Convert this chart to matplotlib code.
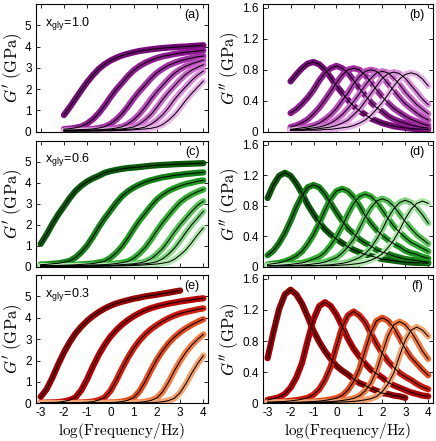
import numpy as np
import matplotlib
matplotlib.use("Agg")
import matplotlib.pyplot as plt

plt.rcParams['font.family'] = ['Liberation Sans', 'DejaVu Sans']
plt.rcParams['mathtext.fontset'] = 'cm'
plt.rcParams['axes.unicode_minus'] = False

nan = np.nan

# log10 frequency grids (quarter decade)
x_a = [-2, -1.75, -1.5, -1.25, -1, -0.75, -0.5, -0.25, 0, 0.25, 0.5, 0.75, 1,
       1.25, 1.5, 1.75, 2, 2.25, 2.5, 2.75, 3, 3.25, 3.5, 3.75, 4]
x_c = [-3, -2.75, -2.5, -2.25] + x_a

# (a) G' (GPa), x_gly = 1.0
gp_a = [
    [0.78, 1.15, 1.55, 1.95, 2.33, 2.66, 2.95, 3.17, 3.34, 3.47, 3.58, 3.66, 3.73,
     3.79, 3.83, 3.87, 3.9, 3.93, 3.95, 3.97, 3.99, 4.0, 4.02, 4.04, 4.06],
    [0.12, 0.14, 0.18, 0.24, 0.38, 0.59, 0.87, 1.22, 1.62, 1.98, 2.29, 2.61, 2.88,
     3.08, 3.24, 3.36, 3.46, 3.54, 3.59, 3.65, 3.69, 3.73, 3.76, 3.79, 3.82],
    [0.08, 0.08, 0.09, 0.1, 0.11, 0.13, 0.17, 0.23, 0.36, 0.57, 0.84, 1.18, 1.56,
     1.9, 2.2, 2.51, 2.77, 2.96, 3.12, 3.23, 3.33, 3.4, 3.46, 3.52, 3.55],
    [0.05, 0.05, 0.05, 0.06, 0.07, 0.08, 0.09, 0.11, 0.13, 0.17, 0.23, 0.36, 0.56,
     0.83, 1.16, 1.54, 1.88, 2.18, 2.48, 2.74, 2.93, 3.08, 3.19, 3.28, 3.36],
    [0.04, 0.04, 0.04, 0.05, 0.05, 0.06, 0.07, 0.08, 0.09, 0.11, 0.13, 0.17, 0.22,
     0.35, 0.56, 0.81, 1.15, 1.52, 1.85, 2.15, 2.44, 2.7, 2.89, 3.03, 3.15],
    [0.04, 0.04, 0.04, 0.04, 0.04, 0.05, 0.05, 0.06, 0.07, 0.08, 0.09, 0.11, 0.13,
     0.16, 0.22, 0.35, 0.55, 0.8, 1.13, 1.5, 1.83, 2.12, 2.41, 2.66, 2.85],
    [0.03, 0.03, 0.03, 0.03, 0.03, 0.03, 0.03, 0.04, 0.04, 0.05, 0.06, 0.07, 0.09,
     0.11, 0.13, 0.16, 0.22, 0.34, 0.54, 0.79, 1.12, 1.48, 1.8, 2.09, 2.38],
]
# (b) G'' (GPa), x_gly = 1.0
gpp_b = [
    [0.65, 0.74, 0.82, 0.88, 0.9, 0.87, 0.8, 0.7, 0.59, 0.5, 0.41, 0.33, 0.27,
     0.22, 0.17, 0.14, 0.11, 0.09, 0.07, 0.06, 0.05, 0.04, 0.036, 0.032, 0.027],
    [0.24, 0.29, 0.36, 0.44, 0.54, 0.66, 0.76, 0.82, 0.85, 0.82, 0.76, 0.66, 0.56,
     0.47, 0.38, 0.31, 0.26, 0.2, 0.16, 0.13, 0.11, 0.085, 0.07, 0.055, 0.047],
    [0.06, 0.08, 0.115, 0.16, 0.23, 0.31, 0.41, 0.52, 0.63, 0.73, 0.8, 0.82, 0.8,
     0.73, 0.64, 0.54, 0.45, 0.37, 0.3, 0.25, 0.2, 0.16, 0.13, 0.1, 0.08],
    [0.03, 0.04, 0.05, 0.06, 0.08, 0.11, 0.16, 0.22, 0.3, 0.4, 0.5, 0.62, 0.71,
     0.78, 0.8, 0.78, 0.71, 0.62, 0.53, 0.44, 0.36, 0.3, 0.24, 0.19, 0.15],
    [0.02, 0.03, 0.03, 0.04, 0.05, 0.06, 0.08, 0.11, 0.16, 0.22, 0.3, 0.39, 0.49,
     0.6, 0.69, 0.76, 0.78, 0.76, 0.69, 0.61, 0.51, 0.43, 0.35, 0.29, 0.23],
    [0.02, 0.02, 0.02, 0.03, 0.03, 0.04, 0.05, 0.06, 0.08, 0.11, 0.15, 0.22, 0.29,
     0.39, 0.49, 0.59, 0.69, 0.75, 0.77, 0.75, 0.69, 0.6, 0.51, 0.42, 0.35],
    [0.02, 0.02, 0.02, 0.02, 0.02, 0.02, 0.03, 0.03, 0.04, 0.05, 0.06, 0.08, 0.11,
     0.15, 0.21, 0.29, 0.38, 0.48, 0.59, 0.68, 0.74, 0.76, 0.74, 0.68, 0.59],
]
# (c) G' (GPa), x_gly = 0.6
gp_c = [
    [1.09, 1.53, 2.03, 2.48, 2.87, 3.27, 3.61, 3.86, 4.06, 4.21, 4.33, 4.47, 4.55,
     4.61, 4.66, 4.7, 4.72, 4.75, 4.78, 4.81, 4.83, 4.85, 4.86, 4.88, 4.89, 4.9,
     4.91, 4.92, 4.93],
    [0.1, 0.11, 0.14, 0.16, 0.21, 0.28, 0.44, 0.69, 1.01, 1.43, 1.89, 2.3, 2.67,
     3.04, 3.36, 3.59, 3.77, 3.91, 4.03, 4.12, 4.19, 4.26, 4.3, 4.35, 4.38, 4.42,
     4.44, 4.47, 4.49],
    [0.05, 0.05, 0.06, 0.06, 0.07, 0.08, 0.09, 0.11, 0.13, 0.15, 0.2, 0.26, 0.42,
     0.66, 0.97, 1.36, 1.8, 2.2, 2.55, 2.9, 3.21, 3.43, 3.61, 3.74, 3.85, 3.94,
     4.0, 4.07, 4.11],
    [0.04, 0.04, 0.04, 0.04, 0.04, 0.04, 0.05, 0.06, 0.07, 0.08, 0.09, 0.1, 0.12,
     0.15, 0.19, 0.25, 0.4, 0.63, 0.92, 1.3, 1.72, 2.1, 2.44, 2.77, 3.07, 3.28,
     3.44, 3.57, 3.68],
    [0.03, 0.03, 0.03, 0.03, 0.03, 0.03, 0.04, 0.04, 0.04, 0.05, 0.05, 0.06, 0.07,
     0.08, 0.1, 0.12, 0.14, 0.18, 0.24, 0.38, 0.6, 0.88, 1.24, 1.64, 2.0, 2.32,
     2.64, 2.92, 3.12],
    [0.03, 0.03, 0.03, 0.03, 0.03, 0.03, 0.03, 0.03, 0.03, 0.03, 0.03, 0.04, 0.05,
     0.06, 0.07, 0.08, 0.1, 0.12, 0.14, 0.18, 0.24, 0.38, 0.6, 0.88, 1.24, 1.64,
     2.0, 2.32, 2.64],
    [0.03, 0.03, 0.03, 0.03, 0.03, 0.03, 0.03, 0.03, 0.03, 0.03, 0.03, 0.03, 0.03,
     0.04, 0.04, 0.05, 0.06, 0.07, 0.09, 0.11, 0.13, 0.17, 0.22, 0.35, 0.56, 0.81,
     1.15, 1.52, 1.85],
]
# (d) G'' (GPa), x_gly = 0.6
gpp_d = [
    [0.9, 1.07, 1.19, 1.23, 1.19, 1.09, 0.96, 0.81, 0.69, 0.58, 0.49, 0.42, 0.36,
     0.31, 0.26, 0.22, 0.19, 0.16, 0.14, 0.12, 0.1, 0.09, 0.08, 0.07, 0.06, 0.055,
     0.05, 0.05, 0.045],
    [0.15, 0.21, 0.31, 0.44, 0.6, 0.78, 0.93, 1.04, 1.07, 1.04, 0.95, 0.83, 0.71,
     0.6, 0.5, 0.43, 0.36, 0.31, 0.27, 0.22, 0.19, 0.17, 0.14, 0.12, 0.1, 0.09,
     0.08, 0.07, 0.06],
    [0.03, 0.04, 0.05, 0.07, 0.1, 0.14, 0.2, 0.3, 0.42, 0.57, 0.74, 0.89, 0.99,
     1.02, 0.99, 0.91, 0.8, 0.67, 0.57, 0.48, 0.41, 0.35, 0.3, 0.26, 0.21, 0.18,
     0.16, 0.13, 0.11],
    [0.014, 0.014, 0.019, 0.024, 0.03, 0.04, 0.05, 0.07, 0.1, 0.13, 0.19, 0.28,
     0.39, 0.53, 0.69, 0.83, 0.92, 0.95, 0.92, 0.85, 0.74, 0.63, 0.53, 0.45, 0.38,
     0.32, 0.28, 0.24, 0.2],
    [0.013, 0.013, 0.013, 0.013, 0.013, 0.018, 0.022, 0.027, 0.036, 0.045, 0.06,
     0.09, 0.12, 0.18, 0.26, 0.36, 0.5, 0.65, 0.77, 0.86, 0.89, 0.86, 0.79, 0.69,
     0.59, 0.5, 0.42, 0.36, 0.3],
    [0.013, 0.013, 0.013, 0.013, 0.013, 0.013, 0.013, 0.013, 0.013, 0.017, 0.022,
     0.026, 0.035, 0.044, 0.06, 0.087, 0.12, 0.17, 0.25, 0.36, 0.49, 0.64, 0.76,
     0.84, 0.87, 0.84, 0.77, 0.68, 0.57],
    [0.013, 0.013, 0.013, 0.013, 0.013, 0.013, 0.013, 0.013, 0.013, 0.013, 0.013,
     0.013, 0.017, 0.022, 0.026, 0.034, 0.043, 0.06, 0.086, 0.12, 0.17, 0.25, 0.35,
     0.48, 0.63, 0.75, 0.83, 0.86, 0.83],
]
# (e) G' (GPa), x_gly = 0.3
gp_e = [
    [0.3, 0.65, 1.19, 1.81, 2.38, 2.86, 3.27, 3.59, 3.86, 4.08, 4.27, 4.43, 4.56,
     4.67, 4.75, 4.82, 4.89, 4.94, 5.0, 5.04, 5.08, 5.13, 5.17, 5.22, 5.27, nan,
     nan, nan, nan],
    [0.02, 0.03, 0.04, 0.05, 0.09, 0.15, 0.28, 0.62, 1.13, 1.73, 2.27, 2.73, 3.12,
     3.42, 3.68, 3.89, 4.07, 4.22, 4.35, 4.45, 4.53, 4.6, 4.66, 4.71, 4.76, 4.8,
     4.84, 4.88, 4.91],
    [0.01, 0.01, 0.01, 0.01, 0.015, 0.02, 0.025, 0.035, 0.05, 0.08, 0.15, 0.27,
     0.58, 1.07, 1.62, 2.13, 2.57, 2.93, 3.23, 3.47, 3.66, 3.83, 3.98, 4.1, 4.2,
     4.27, 4.33, 4.39, 4.44],
    [0.01, 0.01, 0.01, 0.01, 0.01, 0.01, 0.01, 0.01, 0.01, 0.014, 0.019, 0.023,
     0.033, 0.047, 0.08, 0.14, 0.26, 0.56, 1.02, 1.56, 2.05, 2.46, 2.81, 3.09,
     3.32, 3.51, 3.67, 3.81, 3.93],
    [0.01, 0.01, 0.01, 0.01, 0.01, 0.01, 0.01, 0.01, 0.01, 0.01, 0.01, 0.01, 0.01,
     0.013, 0.018, 0.023, 0.03, 0.045, 0.077, 0.135, 0.25, 0.54, 0.99, 1.51, 1.98,
     2.39, 2.72, 2.99, 3.22],
    [0.01, 0.01, 0.01, 0.01, 0.01, 0.01, 0.01, 0.01, 0.01, 0.01, 0.01, 0.01, 0.01,
     0.01, 0.01, 0.01, 0.013, 0.017, 0.021, 0.029, 0.042, 0.071, 0.126, 0.23, 0.5,
     0.92, 1.41, 1.85, 2.23],
]
# (f) G'' (GPa), x_gly = 0.3
gpp_f = [
    [0.58, 0.91, 1.21, 1.4, 1.46, 1.4, 1.28, 1.11, 0.93, 0.79, 0.67, 0.57, 0.48,
     0.42, 0.37, 0.31, 0.26, 0.23, 0.19, 0.16, 0.13, 0.12, 0.1, 0.09, 0.07, nan,
     nan, nan, nan],
    [0.044, 0.059, 0.078, 0.12, 0.2, 0.33, 0.52, 0.81, 1.08, 1.25, 1.3, 1.25, 1.14,
     0.99, 0.83, 0.7, 0.6, 0.51, 0.43, 0.38, 0.33, 0.27, 0.23, 0.2, 0.17, 0.14,
     0.12, 0.1, 0.09],
    [0.014, 0.017, 0.02, 0.024, 0.031, 0.04, 0.053, 0.071, 0.11, 0.18, 0.3, 0.47,
     0.73, 0.98, 1.13, 1.18, 1.13, 1.04, 0.9, 0.76, 0.64, 0.54, 0.46, 0.39, 0.34,
     0.3, 0.25, 0.21, 0.18],
    [0.011, 0.011, 0.011, 0.011, 0.011, 0.013, 0.015, 0.019, 0.022, 0.029, 0.037,
     0.05, 0.066, 0.1, 0.17, 0.28, 0.44, 0.68, 0.91, 1.06, 1.1, 1.06, 0.97, 0.84,
     0.7, 0.59, 0.51, 0.43, 0.36],
    [0.01, 0.01, 0.01, 0.01, 0.01, 0.01, 0.01, 0.01, 0.013, 0.015, 0.018, 0.021,
     0.027, 0.036, 0.047, 0.063, 0.095, 0.16, 0.26, 0.42, 0.65, 0.87, 1.01, 1.05,
     1.01, 0.92, 0.8, 0.67, 0.57],
    [0.01, 0.01, 0.01, 0.01, 0.01, 0.01, 0.01, 0.01, 0.01, 0.01, 0.01, 0.012,
     0.014, 0.017, 0.02, 0.025, 0.033, 0.044, 0.059, 0.088, 0.15, 0.25, 0.39, 0.61,
     0.81, 0.94, 0.98, 0.94, 0.86],
]

purple = ['#760a78', '#8e1a92', '#a42ea6', '#ba4cbc', '#cc6ace', '#dc8cdc', '#eab4ea']
green = ['#0a5a0a', '#128012', '#1e9a1e', '#30b030', '#58c458', '#84d684', '#b2e8ae']
red = ['#960000', '#b80000', '#d01c0a', '#e44c1c', '#f27c42', '#f6a26e']

panels = [
    ('(a)', x_a, gp_a, purple, 'G1', 'x$_{\\mathregular{gly}}$=1.0'),
    ('(b)', x_a, gpp_b, purple, 'G2', None),
    ('(c)', x_c, gp_c, green, 'G1', 'x$_{\\mathregular{gly}}$=0.6'),
    ('(d)', x_c, gpp_d, green, 'G2', None),
    ('(e)', x_c, gp_e, red, 'G1', 'x$_{\\mathregular{gly}}$=0.3'),
    ('(f)', x_c, gpp_f, red, 'G2', None),
]

fig = plt.figure(figsize=(4.36, 4.41), dpi=100)
lefts = [0.0819, 0.6025]
widths = [0.396, 0.391]
bottoms = [0.7014, 0.3952, 0.0855]
heights = [0.2896, 0.2857, 0.291]

for i, (tag, xs, curves, cols, kind, note) in enumerate(panels):
    r, c = i // 2, i % 2
    ax = fig.add_axes([lefts[c], bottoms[r], widths[c], heights[r]])
    # measured data as thick coloured traces, fits as thin black lines
    for ys, col in zip(curves, cols):
        ax.plot(xs, ys, color=col, lw=4.5, solid_capstyle='round', solid_joinstyle='round')
    for ys in curves:
        ax.plot(xs, ys, color='black', lw=0.75)
    ax.set_xlim(-3.215, 4.215)
    ax.set_xticks(range(-3, 5))
    if kind == 'G1':
        ax.set_ylim(0, 6)
        ax.set_yticks(range(0, 6))
        ax.set_ylabel(r"$G'\ \mathrm{(GPa)}$", fontsize=12, labelpad=1)
    else:
        ax.set_ylim(0, 1.65)
        ax.set_yticks([0, 0.4, 0.8, 1.2, 1.6])
        ax.set_yticklabels(['0', '0.4', '0.8', '1.2', '1.6'])
        ax.set_ylabel(r"$G''\ \mathrm{(GPa)}$", fontsize=12, labelpad=1)
    ax.tick_params(direction='in', top=True, right=True, length=3, width=0.6,
                   labelsize=8.5, pad=3)
    if r < 2:
        ax.set_xticklabels([])
    else:
        ax.set_xlabel(r"$\mathrm{log(Frequency/Hz)}$", fontsize=11, labelpad=1)
    for s in ax.spines.values():
        s.set_linewidth(0.8)
    ax.text(0.906, 0.914, tag, transform=ax.transAxes, ha='center', va='center',
            fontsize=9)
    if note:
        ax.text(0.055, 0.84, note, transform=ax.transAxes, ha='left', va='center',
                fontsize=9)

plt.savefig('out.png', dpi=100)
